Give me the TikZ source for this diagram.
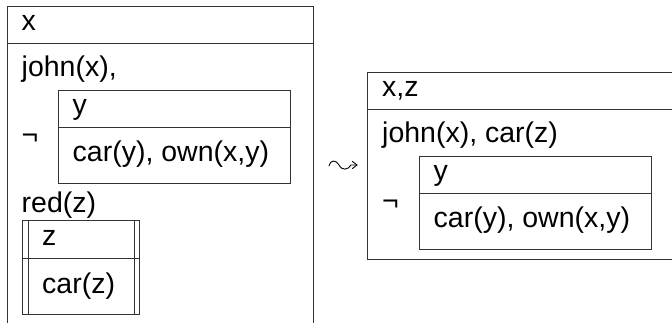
\documentclass[tikz,border=0pt]{standalone}
\usepackage{fontspec}
\setmainfont{Liberation Sans}
\begin{document}
\begin{tikzpicture}[x=1pt,y=-1pt,
  box/.style={draw=black!80,line width=0.9pt},
  squig/.style={draw=black,line width=0.9pt,line cap=round,line join=round},
  txt/.style={anchor=base west,inner sep=0pt,font=\fontsize{28.5}{34}\selectfont}]
\useasboundingbox (0,0) rectangle (672,323);
\clip (0,0) rectangle (672,323);
% left outer box
\draw[box] (7,345) -- (7,6) -- (313,6) -- (313,345);
\draw[box] (7,43) -- (313,43);
\node[txt] (lx) at (21.5,30.5) {x};
\node[txt] (lj) at (21.5,77) {john(x),};
\node[txt] (lneg) at (21.5,145) {¬};
% left inner box
\draw[box] (58,90) rectangle (290,183);
\draw[box] (58,127) -- (290,127);
\node[txt] (ly) at (72.5,115) {y};
\node[txt] (lc) at (72.5,162) {car(y), own(x,y)};
\node[txt] (lr) at (21.5,213) {red(z)};
% small double box
\draw[box] (22,220) rectangle (139,314);
\draw[box] (22,258) -- (139,258);
\draw[box] (28,220) -- (28,314);
\draw[box] (134,220) -- (134,314);
\node[txt] (lz) at (42,246) {z};
\node[txt] (lcz) at (42,293) {car(z)};
% squiggly arrow
\coordinate (s0) at (329,166);
\coordinate (s1) at (339,165);
\coordinate (s2) at (351,165);
\coordinate (s3) at (357,165);
\draw[squig] (s0) .. controls (331,159) and (336,160) .. (s1)
  .. controls (342,171) and (348,170) .. (s2) -- (s3);
\draw[squig] (352.5,161.5) .. controls (354.5,163.5) .. (s3)
  .. controls (354.5,166.5) .. (352.5,168.5);
% right box
\draw[box] (367,72) rectangle (700,259);
\draw[box] (367,109) -- (700,109);
\node[txt] (rx) at (382,97) {x,z};
\node[txt] (rj) at (382,143) {john(x), car(z)};
\node[txt] (rneg) at (382,211) {¬};
\draw[box] (419,156) rectangle (651,249);
\draw[box] (419,193) -- (651,193);
\node[txt] (ry) at (433.5,181) {y};
\node[txt] (rc) at (433.5,228) {car(y), own(x,y)};
\end{tikzpicture}
\end{document}
